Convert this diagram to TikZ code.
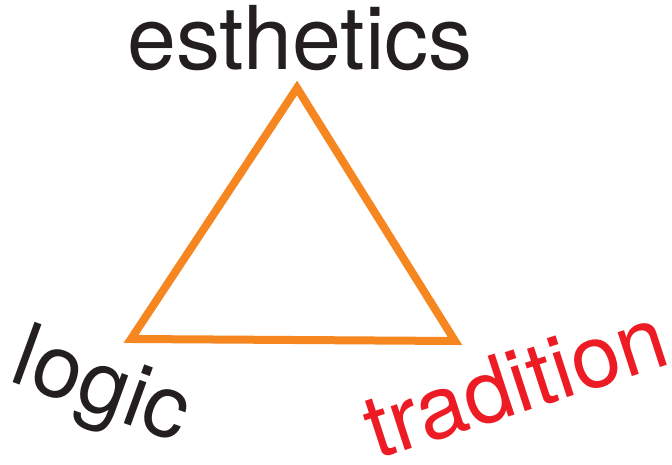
\documentclass[tikz,border=0pt]{standalone}
\usepackage{fontspec}
\setmainfont{TeX Gyre Heros}
\definecolor{triorange}{RGB}{245,134,32}
\definecolor{txtblack}{RGB}{35,31,32}
\definecolor{txtred}{RGB}{237,28,36}
\begin{document}
\begin{tikzpicture}[x=1pt,y=1pt,
  lbl/.style={inner sep=0pt,outer sep=0pt,font=\fontsize{88}{88}\selectfont,text=txtblack},
  tri/.style={draw=triorange,line width=8pt,line join=miter}]
\useasboundingbox (0,0) rectangle (672,465);
\coordinate (top) at (297,377);
\coordinate (bl) at (131,126);
\coordinate (br) at (455,124);
\draw[tri] (top) -- (bl) -- (br) -- cycle;
\node[lbl,anchor=base] (est) at (300,395) {esthetics};
\node[lbl,anchor=base west,rotate=-20] (log) at (8,84) {logic};
\node[lbl,anchor=base west,rotate=18,text=txtred] (tra) at (376,5) {tradition};
\end{tikzpicture}
\end{document}
